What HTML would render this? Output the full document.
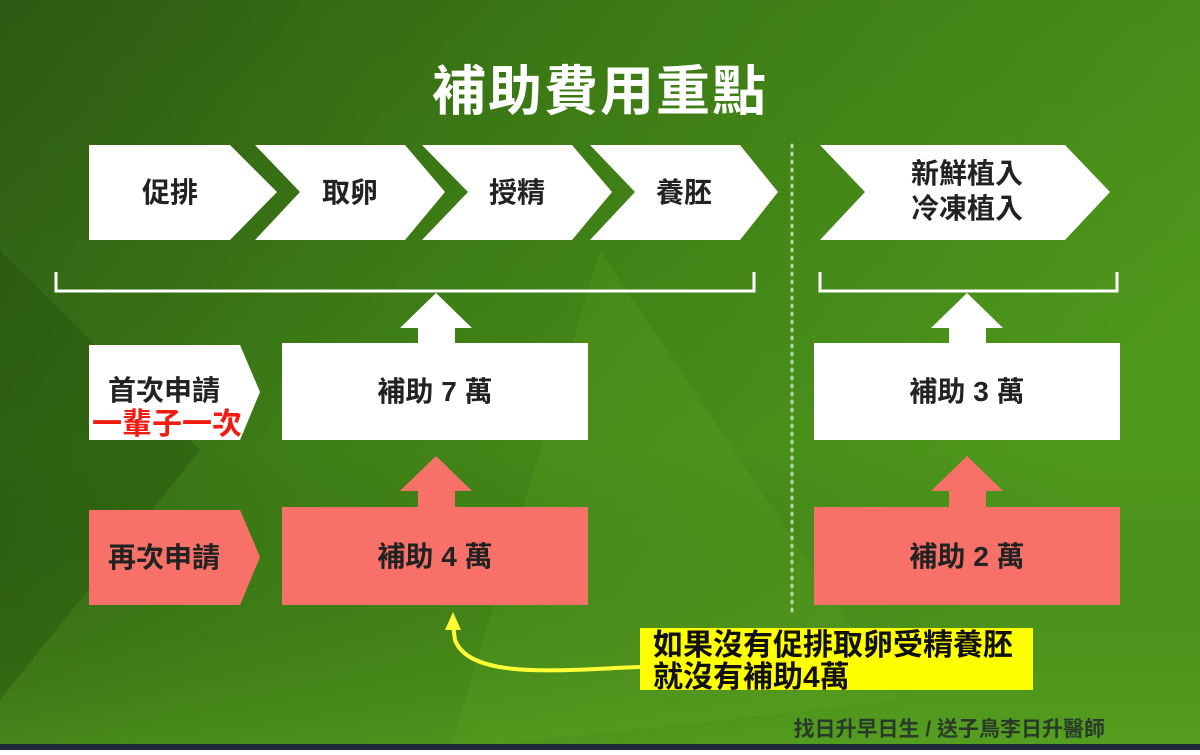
<!DOCTYPE html>
<html><head><meta charset="utf-8"><style>
body{margin:0;width:1200px;height:750px;overflow:hidden;font-family:"Liberation Sans","Noto Sans CJK TC",sans-serif;}
</style></head><body>
<svg width="1200" height="750" xmlns="http://www.w3.org/2000/svg" font-family="Liberation Sans, Noto Sans CJK TC, sans-serif">
<defs>
<linearGradient id="bg" x1="0" y1="0" x2="1" y2="0.4">
<stop offset="0" stop-color="#2f5e14"/><stop offset="0.45" stop-color="#3f8016"/><stop offset="1" stop-color="#4f9a1c"/>
</linearGradient>
<linearGradient id="bg2" x1="0" y1="0" x2="0" y2="1">
<stop offset="0" stop-color="#000" stop-opacity="0.05"/><stop offset="0.6" stop-color="#000" stop-opacity="0"/><stop offset="1" stop-color="#6ab02a" stop-opacity="0.25"/>
</linearGradient>
</defs>
<rect width="1200" height="750" fill="url(#bg)"/>
<rect width="1200" height="750" fill="url(#bg2)"/>
<polygon points="0,250 200,450 0,700" fill="#1f4a0c" opacity="0.35"/>
<polygon points="600,250 900,700 450,750" fill="#6ab52a" opacity="0.15"/>
<rect y="744" width="1200" height="6" fill="#1c2a3a"/>
<text x="600" y="110" font-size="54" font-weight="bold" fill="#fff" text-anchor="middle" letter-spacing="2">補助費用重點</text>
<g fill="#fff">
<polygon points="89,145 230,145 277,192 230,240 89,240"/>
<polygon points="255,145 405,145 445,192 405,240 255,240 300,192"/>
<polygon points="422,145 572,145 612,192 572,240 422,240 468,192"/>
<polygon points="590,145 740,145 778,192 740,240 590,240 635,192"/>
<polygon points="820,145 1065,145 1110,192 1065,240 820,240 865,192"/>
</g>
<g font-size="28" font-weight="bold" fill="#222" text-anchor="middle">
<text x="170" y="202">促排</text><text x="350" y="202">取卵</text><text x="517" y="202">授精</text><text x="684" y="202">養胚</text>
<text x="967" y="183">新鮮植入</text><text x="967" y="218">冷凍植入</text>
</g>
<g stroke="#fff" stroke-width="3" fill="none">
<path d="M56,272 V291 H754 V272"/>
<path d="M820,272 V291 H1117 V272"/>
</g>
<line x1="792" y1="145" x2="792" y2="612" stroke="#b8d8a0" stroke-width="3" stroke-dasharray="2,6" stroke-linecap="round"/>
<g fill="#fff">
<polygon points="436,293 472,328 455,328 455,343 418,343 418,328 400,328"/>
<polygon points="967,293 1003,328 986,328 986,343 949,343 949,328 931,328"/>
<rect x="282" y="343" width="306" height="97"/>
<rect x="814" y="343" width="306" height="97"/>
<polygon points="89,345 240,345 260,392 240,440 89,440"/>
</g>
<g fill="#f87168">
<polygon points="436,456 472,491 455,491 455,507 418,507 418,491 400,491"/>
<polygon points="967,456 1003,491 986,491 986,507 949,507 949,491 931,491"/>
<rect x="282" y="507" width="306" height="98"/>
<rect x="814" y="507" width="306" height="98"/>
<polygon points="89,510 240,510 260,557 240,605 89,605"/>
</g>
<g font-size="28" font-weight="bold" fill="#222" text-anchor="middle">
<text x="435" y="401">補助 7 萬</text><text x="967" y="401">補助 3 萬</text>
<text x="435" y="566">補助 4 萬</text><text x="967" y="566">補助 2 萬</text>
<text x="164" y="400">首次申請</text><text x="164" y="567">再次申請</text>
</g>
<text x="167" y="434" font-size="30" font-weight="bold" fill="#f01c12" text-anchor="middle">一輩子一次</text>
<rect x="640" y="628" width="393" height="62" fill="#ffff00"/>
<g font-size="30" font-weight="bold" fill="#111">
<text x="653" y="655">如果沒有促排取卵受精養胚</text>
<text x="653" y="687">就沒有補助4萬</text>
</g>
<path d="M640,667 C560,670 470,680 455,640 L453,625" stroke="#ffff33" stroke-width="4" fill="none"/>
<polygon points="453,612 445,630 461,630" fill="#ffff33"/>
<text x="1105" y="736" font-size="21" font-weight="bold" fill="#2a3a2a" text-anchor="end">找日升早日生 / 送子鳥李日升醫師</text>
</svg>
</body></html>
